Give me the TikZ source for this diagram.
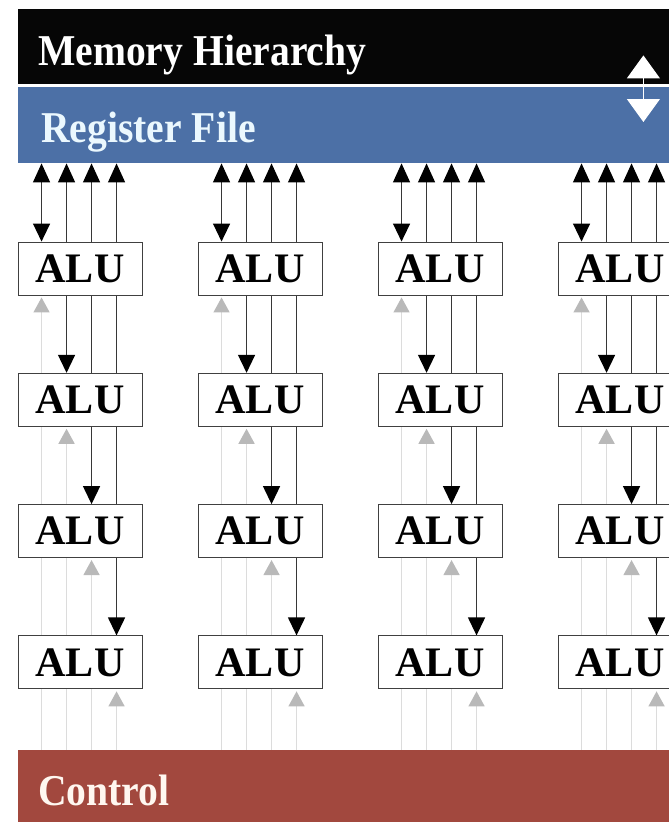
\documentclass[tikz,border=0pt]{standalone}
\usepackage{fontspec}
\setmainfont{Liberation Serif}
\newfontfamily\bandfont[FakeStretch=0.9]{Liberation Serif}
\usetikzlibrary{arrows.meta,calc,backgrounds}

\definecolor{memblack}{RGB}{6,6,6}
\definecolor{rfblue}{RGB}{76,112,166}
\definecolor{ctrlred}{RGB}{162,72,62}
\definecolor{wire}{RGB}{55,55,55}
\definecolor{ctlline}{RGB}{220,220,220}
\definecolor{ctltip}{RGB}{185,185,185}

\tikzset{
  band/.style={rectangle,inner sep=0pt,minimum width=651pt,anchor=north west},
  bandlabel/.style={font=\bandfont\fontsize{44}{44}\selectfont\bfseries,anchor=base west,inner sep=0pt},
  alu/.style={rectangle,draw=black!75,line width=0.9pt,fill=white,minimum width=124pt,
    minimum height=53pt,inner sep=0pt,font=\fontsize{42}{42}\selectfont\bfseries},
  datawire/.style={wire,line width=1.3pt,
    {Triangle[width=17pt,length=19pt,color=black]}-{Triangle[width=17pt,length=18pt,color=black]}},
  ctlwire/.style={ctlline,line width=1.5pt,-{Triangle[width=16pt,length=15pt,color=ctltip]},shorten >=2pt},
  busarrow/.style={white,line width=1pt,{Triangle[width=33pt,length=23pt]}-{Triangle[width=33pt,length=23pt]}}
}

\begin{document}
\begin{tikzpicture}[x=1pt,y=-1pt]
  \useasboundingbox (0,0) rectangle (669,822);

  % the three bands
  \node[band,fill=memblack,minimum height=75pt] (mem) at (18,9) {};
  \node[band,fill=rfblue,minimum height=76pt] (rf) at (18,87) {};
  \node[band,fill=ctrlred,minimum height=72pt] (ctrl) at (18,750) {};
  \node[bandlabel,text=white] (mem-label) at ($(mem.south west)+(20,-19)$) {Memory Hierarchy};
  \node[bandlabel,text=white!92!cyan] (rf-label) at ($(rf.south west)+(23,-21)$) {Register File};
  \node[bandlabel,text=white!94!orange] (ctrl-label) at ($(ctrl.north west)+(20,55)$) {Control};

  % memory <-> register file
  \coordinate (mem-port) at ($(mem.south east)+(-26,-29)$);
  \coordinate (rf-port) at ($(rf.north east)+(-26,35)$);
  \draw[busarrow] (mem-port) -- (rf-port);

  % 4x4 ALU grid
  \foreach \c in {1,...,4}
    \foreach \r in {1,...,4}
      \node[alu] (alu-\c-\r) at ({80+180*(\c-1)},{268.5+131.3*(\r-1)}) {ALU};

  \begin{scope}[on background layer]
    \foreach \c in {1,...,4}
      \foreach \k in {1,...,4} {
        \coordinate (x-\c-\k) at ($(alu-\c-1.north west)+({24+25*(\k-1)},0)$);
        \draw[datawire] (rf.south -| x-\c-\k) -- (alu-\c-\k.north -| x-\c-\k);
        \draw[ctlwire] (ctrl.north -| x-\c-\k) -- (alu-\c-\k.south -| x-\c-\k);
      }
  \end{scope}
\end{tikzpicture}
\end{document}
